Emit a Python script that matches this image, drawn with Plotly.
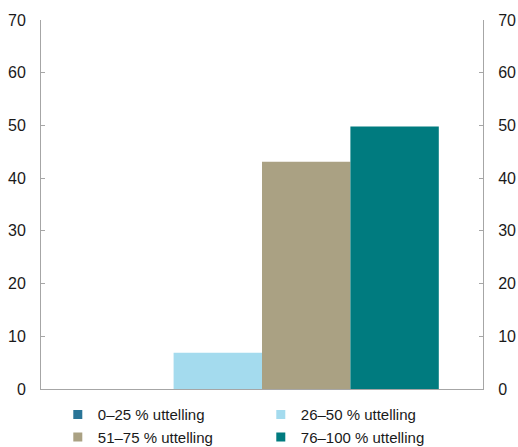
import plotly.graph_objects as go

# data
categories = [""]
series_names = ["0–25 % uttelling", "26–50 % uttelling", "51–75 % uttelling", "76–100 % uttelling"]
series_values = [[0], [6.9], [43.1], [49.8]]
series_colours = ["#2a7597", "#a4dbee", "#aaa183", "#007b7f"]
y_ticks = [0, 10, 20, 30, 40, 50, 60, 70]

fig = go.Figure()
for name, vals, col in zip(series_names, series_values, series_colours):
    fig.add_trace(go.Bar(x=categories, y=vals, name=name, marker=dict(color=col, line=dict(width=0)),
                         showlegend=False))
    # small square legend entries
    fig.add_trace(go.Scatter(x=[None], y=[None], mode="markers", name=name,
                             marker=dict(symbol="square", size=9, color=col)))

# invisible trace so the right axis is drawn
fig.add_trace(go.Scatter(x=categories, y=[None], yaxis="y2", showlegend=False, hoverinfo="skip"))

axis_col = "#a6a6a6"
fig.update_layout(
    width=518, height=447,
    margin=dict(l=41, r=35, t=20, b=58, autoexpand=False),
    paper_bgcolor="white", plot_bgcolor="white",
    font=dict(family="Liberation Sans, Arial, sans-serif", size=15, color="#1a1a1a"),
    barmode="group", bargap=0.2, bargroupgap=0,
    xaxis=dict(showline=True, linecolor=axis_col, linewidth=1, showticklabels=False,
               ticks="", showgrid=False, zeroline=False),
    yaxis=dict(range=[0, 70], tickvals=y_ticks, showline=True, linecolor=axis_col, linewidth=1,
               ticks="inside", ticklen=4, tickcolor=axis_col, showgrid=False, zeroline=False,
               ticklabelstandoff=11, tickfont=dict(size=16)),
    yaxis2=dict(range=[0, 70], tickvals=y_ticks, overlaying="y", side="right", showline=True,
                linecolor=axis_col, linewidth=1, ticks="inside", ticklen=4, tickcolor=axis_col,
                showgrid=False, zeroline=False, ticklabelstandoff=11, tickfont=dict(size=16)),
    legend=dict(orientation="h", x=0.038, xanchor="left", y=-0.025, yanchor="top",
                entrywidth=158, entrywidthmode="pixels", itemwidth=30,
                font=dict(size=15), tracegroupgap=0),
)

# drop the default page margin so the figure fills the window
fig.write_html("out.html", config={"displayModeBar": False},
               post_script="document.body.style.margin='0';document.body.style.overflow='hidden';")
